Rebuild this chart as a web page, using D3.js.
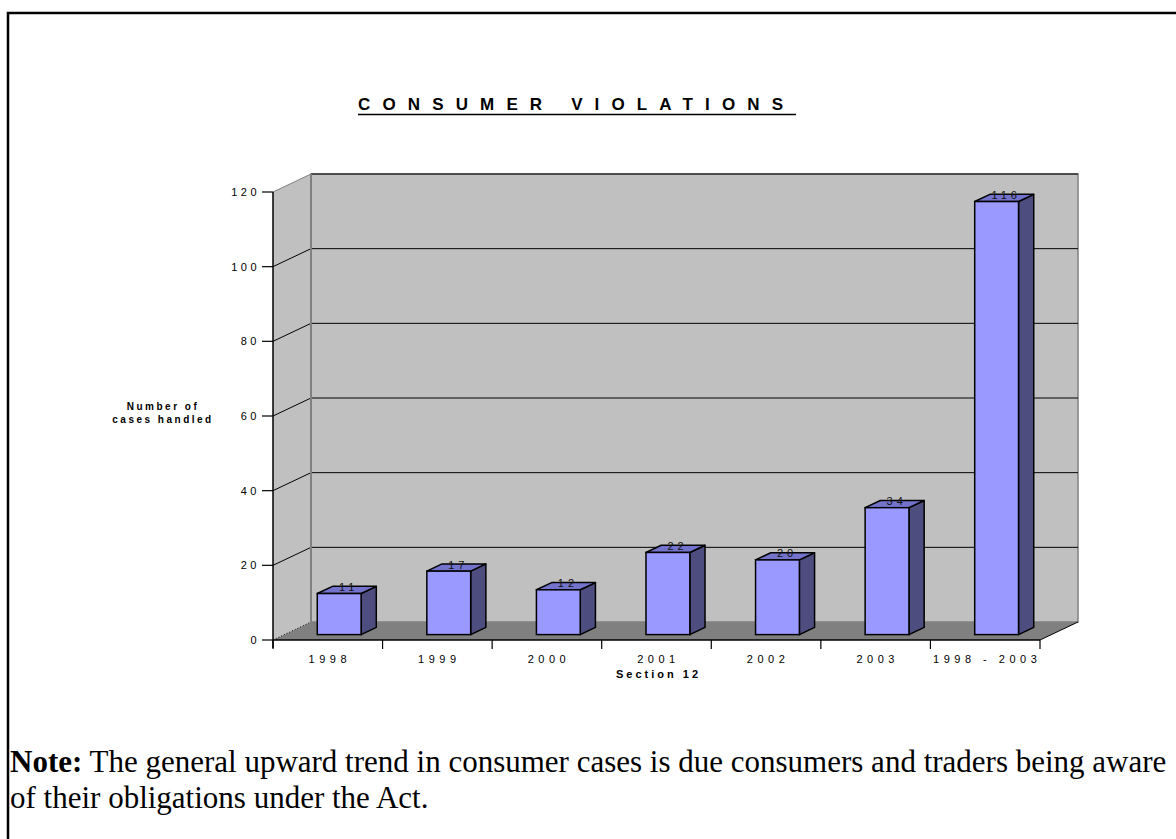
<!DOCTYPE html>
<html>
<head>
<meta charset="utf-8">
<script src="https://cdn.jsdelivr.net/npm/d3@7"></script>
<style>
  body { margin: 0; background: #fff; }
  svg { display: block; }
  .sans { font-family: Arial, "Liberation Sans", sans-serif; }
</style>
</head>
<body>
<div id="chart"></div>
<script>
// Consumer violations chart

// data
const categories = ['1998', '1999', '2000', '2001', '2002', '2003', '1998 - 2003']
const cases = [11, 17, 12, 22, 20, 34, 116]
const yTicks = [0, 20, 40, 60, 80, 100, 120]

var width = 1176
var height = 839

// 3d depth of the plot box
var depth = { dx: 38, dy: -18 }

const xScale = d3.scaleBand()
  .domain(categories)
  .range([273, 1040])
  .padding(0)

const yScale = d3.scaleLinear()
  .domain([0, 120])
  .range([640, 192])

var svg = d3.select('#chart')
  .append('svg')
  .attr('width', width)
  .attr('height', height)

// outer frame (top + left lines)
svg.append('path')
  .attr('d', 'M8,839 L8,13 L1176,13')
  .attr('fill', 'none')
  .attr('stroke', '#000')
  .attr('stroke-width', 2.5)

// title
svg.append('text')
  .attr('class', 'sans')
  .attr('x', 358)
  .attr('y', 110)
  .attr('font-size', 17)
  .attr('font-weight', 'bold')
  .attr('textLength', 425)
  .attr('lengthAdjust', 'spacing')
  .text('CONSUMER VIOLATIONS')
svg.append('line')
  .attr('x1', 358).attr('x2', 796)
  .attr('y1', 114.5).attr('y2', 114.5)
  .attr('stroke', '#000')
  .attr('stroke-width', 1.5)

const x0 = xScale.range()[0]
const x1 = xScale.range()[1]
const yTop = yScale(120)
const yBot = yScale(0)

// left wall
svg.append('path')
  .attr('d', `M${x0},${yBot} L${x0},${yTop} L${x0 + depth.dx},${yTop + depth.dy} L${x0 + depth.dx},${yBot + depth.dy} Z`)
  .attr('fill', '#c0c0c0')

// back wall
svg.append('rect')
  .attr('x', x0 + depth.dx)
  .attr('y', yTop + depth.dy)
  .attr('width', x1 - x0)
  .attr('height', yBot - yTop)
  .attr('fill', '#c0c0c0')
  .attr('stroke', '#808080')
  .attr('stroke-width', 1.5)

// floor
svg.append('path')
  .attr('d', `M${x0},${yBot} L${x1},${yBot} L${x1 + depth.dx},${yBot + depth.dy} L${x0 + depth.dx},${yBot + depth.dy} Z`)
  .attr('fill', '#808080')

// gridlines on walls
const grid = yTicks.filter(d => d > 0)
svg.selectAll('.gridBack')
  .data(grid)
  .enter()
  .append('line')
  .attr('x1', x0 + depth.dx)
  .attr('x2', x1 + depth.dx)
  .attr('y1', d => yScale(d) + depth.dy)
  .attr('y2', d => yScale(d) + depth.dy)
  .attr('stroke', '#000')
  .attr('stroke-width', 1)
svg.selectAll('.gridSide')
  .data(grid)
  .enter()
  .append('line')
  .attr('x1', x0)
  .attr('x2', x0 + depth.dx)
  .attr('y1', d => yScale(d))
  .attr('y2', d => yScale(d) + depth.dy)
  .attr('stroke', d => d == 120 ? '#808080' : '#000')
  .attr('stroke-width', 1)

// back wall left edge
svg.append('line')
  .attr('x1', x0 + depth.dx).attr('x2', x0 + depth.dx)
  .attr('y1', yTop + depth.dy).attr('y2', yBot + depth.dy)
  .attr('stroke', '#808080')
  .attr('stroke-width', 2)

// floor edges
svg.append('line')
  .attr('x1', x0).attr('y1', yBot)
  .attr('x2', x0 + depth.dx).attr('y2', yBot + depth.dy)
  .attr('stroke', '#000')
  .attr('stroke-dasharray', '1,2')
svg.append('line')
  .attr('x1', x1).attr('y1', yBot)
  .attr('x2', x1 + depth.dx).attr('y2', yBot + depth.dy)
  .attr('stroke', '#000')

// bars
const bw = xScale.bandwidth() * 0.4
const fz = { dx: depth.dx * 0.3, dy: depth.dy * 0.3 }
const bd = { dx: depth.dx * 0.4, dy: depth.dy * 0.4 }

const bars = svg.selectAll('.bar')
  .data(categories.map((c, i) => ({ cat: c, val: cases[i] })))
  .enter()
  .append('g')

bars.each(function (d) {
  const g = d3.select(this)
  const left = xScale(d.cat) + (xScale.bandwidth() - bw) / 2 + fz.dx
  const right = left + bw
  const top = yScale(d.val) + fz.dy
  const bottom = yScale(0) + fz.dy
  // side
  g.append('path')
    .attr('d', `M${right},${bottom} L${right},${top} L${right + bd.dx},${top + bd.dy} L${right + bd.dx},${bottom + bd.dy} Z`)
    .attr('fill', '#4d4d80')
    .attr('stroke', '#000')
    .attr('stroke-width', 1.5)
    .attr('stroke-linejoin', 'round')
  // top
  g.append('path')
    .attr('d', `M${left},${top} L${right},${top} L${right + bd.dx},${top + bd.dy} L${left + bd.dx},${top + bd.dy} Z`)
    .attr('fill', '#7373cc')
    .attr('stroke', '#000')
    .attr('stroke-width', 1.5)
    .attr('stroke-linejoin', 'round')
  // front
  g.append('rect')
    .attr('x', left)
    .attr('y', top)
    .attr('width', bw)
    .attr('height', bottom - top)
    .attr('fill', '#9999ff')
    .attr('stroke', '#000')
    .attr('stroke-width', 1.5)
  // value label
  g.append('text')
    .attr('class', 'sans')
    .attr('x', left + bw / 2 + bd.dx / 2 + 2)
    .attr('y', top + bd.dy / 2 + 1)
    .attr('text-anchor', 'middle')
    .attr('font-size', 11)
    .attr('letter-spacing', 4)
    .attr('fill', '#111')
    .text(d.val)
})

// y axis
svg.append('line')
  .attr('x1', x0).attr('x2', x0)
  .attr('y1', yTop).attr('y2', yBot + 8)
  .attr('stroke', '#000')
  .attr('stroke-width', 1.5)
svg.selectAll('.ytick')
  .data(yTicks)
  .enter()
  .append('line')
  .attr('x1', x0 - 11).attr('x2', x0)
  .attr('y1', d => yScale(d)).attr('y2', d => yScale(d))
  .attr('stroke', '#000')
  .attr('stroke-width', 1.2)
svg.selectAll('.ylabel')
  .data(yTicks)
  .enter()
  .append('text')
  .attr('class', 'sans')
  .attr('x', x0 - 13)
  .attr('y', d => yScale(d) + 4)
  .attr('text-anchor', 'end')
  .attr('font-size', 11)
  .attr('letter-spacing', 3.5)
  .text(d => d)

// x axis
svg.append('line')
  .attr('x1', x0).attr('x2', x1)
  .attr('y1', yBot).attr('y2', yBot)
  .attr('stroke', '#000')
  .attr('stroke-width', 1.5)
svg.selectAll('.xtick')
  .data(categories.concat(['end']))
  .enter()
  .append('line')
  .attr('x1', (d, i) => x0 + i * xScale.bandwidth())
  .attr('x2', (d, i) => x0 + i * xScale.bandwidth())
  .attr('y1', yBot).attr('y2', yBot + 9)
  .attr('stroke', '#000')
  .attr('stroke-width', 1.2)
svg.selectAll('.xlabel')
  .data(categories)
  .enter()
  .append('text')
  .attr('class', 'sans')
  .attr('x', d => xScale(d) + xScale.bandwidth() / 2 + 2)
  .attr('y', yBot + 23)
  .attr('text-anchor', 'middle')
  .attr('font-size', 11)
  .attr('letter-spacing', 4.5)
  .text(d => d)

// axis titles
svg.append('text')
  .attr('class', 'sans')
  .attr('x', (x0 + x1) / 2 + 2)
  .attr('y', yBot + 38)
  .attr('text-anchor', 'middle')
  .attr('font-size', 11)
  .attr('font-weight', 'bold')
  .attr('letter-spacing', 3)
  .text('Section 12')

const yTitle = svg.append('text')
  .attr('class', 'sans')
  .attr('text-anchor', 'middle')
  .attr('font-size', 10)
  .attr('font-weight', 'bold')
  .attr('letter-spacing', 2.5)
yTitle.append('tspan').attr('x', 163).attr('y', 410).text('Number of')
yTitle.append('tspan').attr('x', 163).attr('y', 423).text('cases handled')

// note below the chart
const note = svg.append('g')
  .attr('font-family', '"Times New Roman", "Liberation Serif", serif')
  .attr('font-size', 31)
const line1 = note.append('text').attr('x', 10).attr('y', 772)
line1.append('tspan').attr('font-weight', 'bold').text('Note:')
line1.append('tspan').text(' The general upward trend in consumer cases is due consumers and traders being aware')
note.append('text').attr('x', 10).attr('y', 808)
  .text('of their obligations under the Act.')
</script>
</body>
</html>
